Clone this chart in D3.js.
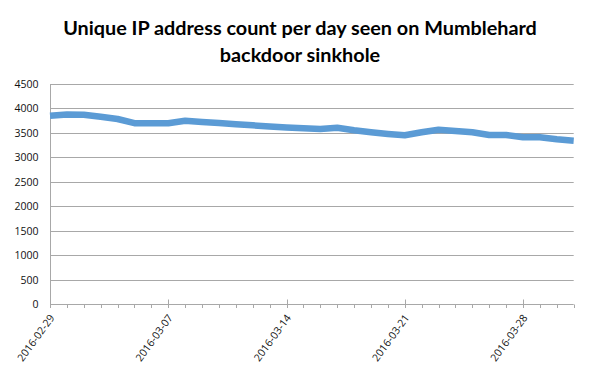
<!DOCTYPE html>
<html>
<head>
<meta charset="utf-8">
<script src="https://cdn.jsdelivr.net/npm/d3@7"></script>
<style>
  html, body { margin: 0; padding: 0; background: #fff; }
  svg { display: block; }
</style>
</head>
<body>
<svg id="chart" width="600" height="374"></svg>
<script>
// ---- data ----
const titleLines = ["Unique IP address count per day seen on Mumblehard", "backdoor sinkhole"];
const dates = [
  "2016-02-29","2016-03-01","2016-03-02","2016-03-03","2016-03-04","2016-03-05","2016-03-06",
  "2016-03-07","2016-03-08","2016-03-09","2016-03-10","2016-03-11","2016-03-12","2016-03-13",
  "2016-03-14","2016-03-15","2016-03-16","2016-03-17","2016-03-18","2016-03-19","2016-03-20",
  "2016-03-21","2016-03-22","2016-03-23","2016-03-24","2016-03-25","2016-03-26","2016-03-27",
  "2016-03-28","2016-03-29","2016-03-30","2016-03-31"
];
const counts = [
  3850, 3875, 3872, 3830, 3785, 3700, 3697,
  3697, 3750, 3723, 3701, 3679, 3656, 3631,
  3610, 3595, 3580, 3607, 3554, 3513, 3479,
  3452, 3513, 3567, 3540, 3513, 3458, 3458,
  3411, 3411, 3370, 3342
];
const yTicks = [0, 500, 1000, 1500, 2000, 2500, 3000, 3500, 4000, 4500];
const xLabelDates = ["2016-02-29", "2016-03-07", "2016-03-14", "2016-03-21", "2016-03-28"];

(function () {
  const parse = d3.utcParse("%Y-%m-%d");
  const data = dates.map((d, i) => ({ date: parse(d), value: counts[i] }));

  const pLeft = 50, pRight = 573.7, pTop = 84, pBottom = 304.3;
  const x = d3.scaleUtc().domain([parse(dates[0]), parse(dates[dates.length - 1])]).range([pLeft, pRight]);
  const y = d3.scaleLinear().domain([0, 4500]).range([pBottom, pTop]);

  const svg = d3.select("#chart");
  const gridColor = "#a8a8a8";
  const y0 = Math.round(y(0)) + 0.5;

  // gridlines
  svg.append("g").selectAll("line").data(yTicks.filter(v => v > 0)).join("line")
    .attr("x1", pLeft).attr("x2", pRight)
    .attr("y1", d => Math.round(y(d)) + 0.5).attr("y2", d => Math.round(y(d)) + 0.5)
    .attr("stroke", gridColor).attr("stroke-width", 1);

  // y axis line
  svg.append("line")
    .attr("x1", pLeft + 0.5).attr("x2", pLeft + 0.5)
    .attr("y1", Math.round(y(4500)) + 0.5).attr("y2", y0)
    .attr("stroke", gridColor);

  // x axis line
  svg.append("line")
    .attr("x1", pLeft).attr("x2", pRight)
    .attr("y1", y0).attr("y2", y0)
    .attr("stroke", gridColor);

  // minor ticks (daily)
  svg.append("g").selectAll("line").data(data).join("line")
    .attr("x1", d => Math.round(x(d.date)) + 0.5).attr("x2", d => Math.round(x(d.date)) + 0.5)
    .attr("y1", y0).attr("y2", y0 + 3.5)
    .attr("stroke", gridColor);

  // major ticks (weekly)
  svg.append("g").selectAll("line").data(xLabelDates.map(parse)).join("line")
    .attr("x1", d => Math.round(x(d)) + 0.5).attr("x2", d => Math.round(x(d)) + 0.5)
    .attr("y1", y0 - 5).attr("y2", y0 + 3.5)
    .attr("stroke", gridColor);

  // y labels
  svg.append("g").selectAll("text").data(yTicks).join("text")
    .attr("x", 38.5).attr("y", d => y(d) + 1)
    .attr("text-anchor", "end").attr("dominant-baseline", "middle")
    .attr("font-family", "'Open Sans', sans-serif").attr("font-size", 10.5)
    .attr("fill", "#111")
    .text(d => d);

  // x labels
  svg.append("g").selectAll("text").data(xLabelDates).join("text")
    .attr("transform", d => `translate(${x(parse(d)) + 5},${y(0) + 13.5}) rotate(-54)`)
    .attr("text-anchor", "end")
    .attr("font-family", "'Open Sans', sans-serif").attr("font-size", 10.5)
    .attr("fill", "#111")
    .text(d => d);

  // line
  const line = d3.line().x(d => x(d.date)).y(d => y(d.value));
  svg.append("path").datum(data)
    .attr("d", line)
    .attr("fill", "none")
    .attr("stroke", "#5b9bd5")
    .attr("stroke-width", 6.5)
    .attr("stroke-linejoin", "round")
    .attr("stroke-linecap", "butt");

  // title
  const title = svg.append("g");
  const t1 = title.append("text")
    .attr("x", 300).attr("y", 35)
    .attr("text-anchor", "middle")
    .attr("font-family", "Lato, 'Open Sans', sans-serif").attr("font-weight", "bold")
    .attr("font-size", 18).attr("fill", "#000")
    .text(titleLines[0]);
  const w = t1.node().getComputedTextLength();
  const fs = 18 * 474 / w;
  t1.attr("font-size", fs);
  title.append("text")
    .attr("x", 300).attr("y", 62)
    .attr("text-anchor", "middle")
    .attr("font-family", "Lato, 'Open Sans', sans-serif").attr("font-weight", "bold")
    .attr("font-size", fs).attr("fill", "#000")
    .text(titleLines[1]);
})();
</script>
</body>
</html>
